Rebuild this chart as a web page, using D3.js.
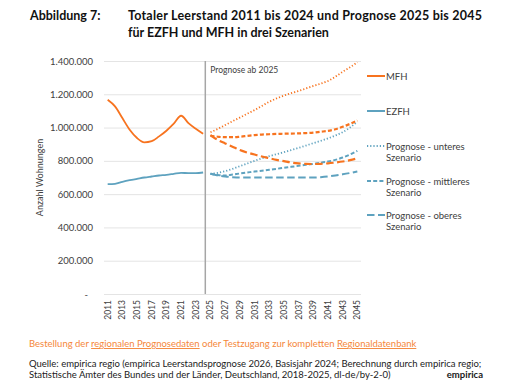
<!DOCTYPE html>
<html>
<head>
<meta charset="utf-8">
<script src="https://cdn.jsdelivr.net/npm/d3@7"></script>
<style>
    body { margin: 0; background: #fff; }
    text { font-family: Lato, "Open Sans", sans-serif; }
</style>
</head>
<body>
<div id="chart-area"></div>
<script>
// data (Anzahl leerstehender Wohnungen)
let histYears = d3.range(2011, 2025).map(String);
let progYears = d3.range(2025, 2046).map(String);
let allYears = histYears.concat(progYears);
let tickYears = allYears.filter(function (d) { return +d % 2 === 1; });

let mfhHist = [1167000, 1127000, 1057000, 987000, 937000, 911000, 918000, 947000, 981000, 1023000, 1071000, 1027000, 993000, 963000];
let ezfhHist = [660000, 662000, 674000, 684000, 692000, 700000, 706000, 712000, 716000, 722000, 728000, 726000, 726000, 730000];

let mfhUnten = [972000, 992000, 1015000, 1038000, 1060000, 1083000, 1105000, 1130000, 1155000, 1175000, 1192000, 1207000, 1220000, 1235000, 1250000, 1264000, 1280000, 1305000, 1335000, 1362000, 1392000];
let mfhMitte = [950000, 945000, 942000, 942000, 945000, 950000, 955000, 958000, 960000, 962000, 963000, 964000, 965000, 967000, 970000, 975000, 980000, 990000, 1005000, 1022000, 1042000];
let mfhOben = [955000, 925000, 905000, 885000, 865000, 850000, 838000, 826000, 816000, 806000, 798000, 790000, 785000, 782000, 781000, 782000, 785000, 790000, 796000, 804000, 815000];

let ezfhUnten = [722000, 728000, 738000, 752000, 768000, 784000, 800000, 815000, 828000, 840000, 852000, 865000, 878000, 892000, 906000, 920000, 935000, 952000, 972000, 1000000, 1035000];
let ezfhMitte = [722000, 715000, 712000, 718000, 724000, 730000, 736000, 741000, 746000, 752000, 758000, 764000, 770000, 776000, 782000, 788000, 796000, 806000, 820000, 838000, 860000];
let ezfhOben = [722000, 712000, 706000, 702000, 700000, 700000, 700000, 700000, 700000, 700000, 700000, 700000, 700000, 700000, 700000, 702000, 706000, 712000, 719000, 727000, 736000];

let yTicks = [0, 200000, 400000, 600000, 800000, 1000000, 1200000, 1400000];
let legendLabels = ["MFH", "EZFH", ["Prognose - unteres", "Szenario"], ["Prognose - mittleres", "Szenario"], ["Prognose - oberes", "Szenario"]];

let orange = "#f7731f",
    blue = "#5ea2bf",
    textCol = "#404040";

let margin = {left: 104, right: 158, top: 61, bottom: 96};
let width = 519 - margin.left - margin.right,
    height = 390 - margin.top - margin.bottom;

let root = d3.select("#chart-area")
    .append("svg")
    .attr("width", 519)
    .attr("height", 390);

let svg = root.append("g")
    .attr("transform", "translate(" + margin.left + ", " + margin.top + ")");

// Title
let title = root.append("g")
    .attr("font-weight", "bold")
    .attr("font-size", "12.5px")
    .attr("fill", "#111");
title.append("text").attr("x", 30).attr("y", 20).text("Abbildung 7:");
title.append("text").attr("x", 128).attr("y", 20)
    .attr("textLength", 354).attr("lengthAdjust", "spacing")
    .text("Totaler Leerstand 2011 bis 2024 und Prognose 2025 bis 2045");
title.append("text").attr("x", 128).attr("y", 37).text("für EZFH und MFH in drei Szenarien");

// Scales
let x = d3.scaleBand()
    .domain(allYears)
    .range([0, width]);

let y = d3.scaleLinear()
    .domain([0, 1400000])
    .range([height, 0]);

let de = d3.formatLocale({decimal: ",", thousands: ".", grouping: [3], currency: ["", " €"]});
let fmt = de.format(",.0f");

// Y Axis + gridlines
let yAxisCall = d3.axisLeft(y)
    .tickValues(yTicks)
    .tickSize(-width)
    .tickPadding(11)
    .tickFormat(function (d) {
        return d === 0 ? "-" : fmt(d);
    });
let yAxis = svg.append("g")
    .attr("class", "y axis")
    .call(yAxisCall);
yAxis.select(".domain").remove();
yAxis.selectAll("line").attr("stroke", "#e4e4e4").attr("stroke-width", 1);
yAxis.selectAll("text")
    .attr("font-family", "Lato, sans-serif")
    .attr("font-size", "9.5px")
    .attr("fill", textCol);
yAxis.selectAll("text").filter(function (d) { return d === 0; })
    .attr("dx", -5);

// X Axis
let xAxisCall = d3.axisBottom(x).tickValues(tickYears).tickSize(0).tickPadding(0);
let xAxis = svg.append("g")
    .attr("class", "x axis")
    .attr("transform", "translate(0," + height + ")")
    .call(xAxisCall);
xAxis.select(".domain").remove();
xAxis.selectAll("text")
    .attr("font-family", "Lato, sans-serif")
    .attr("font-size", "8.5px")
    .attr("fill", textCol)
    .attr("text-anchor", "end")
    .attr("transform", "rotate(-90)")
    .attr("x", -6)
    .attr("y", 0)
    .attr("dy", "0.35em");

// Y Label
svg.append("text")
    .attr("y", -61)
    .attr("x", -(height / 2))
    .attr("font-size", "9px")
    .attr("fill", textCol)
    .attr("text-anchor", "middle")
    .attr("transform", "rotate(-90)")
    .text("Anzahl Wohnungen");

// Forecast divider
let xDiv = x("2025") - 1.5;
svg.append("line")
    .attr("x1", xDiv).attr("x2", xDiv)
    .attr("y1", 0).attr("y2", height)
    .attr("stroke", "#a6a6a6")
    .attr("stroke-width", 1.5);
svg.append("text")
    .attr("x", xDiv + 5)
    .attr("y", 12)
    .attr("font-size", "8.5px")
    .attr("fill", textCol)
    .text("Prognose ab 2025");

// Lines
let line = d3.line()
    .x(function (d) { return x(d.year) + x.bandwidth() / 2; })
    .y(function (d) { return y(d.value); })
    .curve(d3.curveMonotoneX);

function pairs(years, values) {
    return years.map(function (yr, i) { return {year: yr, value: values[i]}; });
}

let dashes = {solid: null, unten: "1.2,2", mitte: "4,2.2", oben: "7.5,3.5"};

let series = [
    {years: histYears, values: ezfhHist, color: blue, dash: dashes.solid, w: 1.8},
    {years: progYears, values: ezfhOben, color: blue, dash: dashes.oben, w: 2},
    {years: progYears, values: ezfhMitte, color: blue, dash: dashes.mitte, w: 2},
    {years: progYears, values: ezfhUnten, color: blue, dash: dashes.unten, w: 1.8},
    {years: histYears, values: mfhHist, color: orange, dash: dashes.solid, w: 1.8},
    {years: progYears, values: mfhOben, color: orange, dash: dashes.oben, w: 2.2},
    {years: progYears, values: mfhMitte, color: orange, dash: dashes.mitte, w: 2.2},
    {years: progYears, values: mfhUnten, color: orange, dash: dashes.unten, w: 1.8}
];

series.forEach(function (s) {
    svg.append("path")
        .datum(pairs(s.years, s.values))
        .attr("fill", "none")
        .attr("stroke", s.color)
        .attr("stroke-width", s.w)
        .attr("stroke-dasharray", s.dash)
        .attr("d", line);
});

// Legend
let legendRows = [
    {label: legendLabels[0], color: orange, dash: dashes.solid, y: 76},
    {label: legendLabels[1], color: blue, dash: dashes.solid, y: 111},
    {label: legendLabels[2], color: blue, dash: dashes.unten, y: 146},
    {label: legendLabels[3], color: blue, dash: dashes.mitte, y: 181},
    {label: legendLabels[4], color: blue, dash: dashes.oben, y: 215}
];
let legend = root.append("g");
legendRows.forEach(function (r) {
    legend.append("line")
        .attr("x1", 367).attr("x2", 385)
        .attr("y1", r.y).attr("y2", r.y)
        .attr("stroke", r.color)
        .attr("stroke-width", 2)
        .attr("stroke-dasharray", r.dash);
    let lines = Array.isArray(r.label) ? r.label : [r.label];
    lines.forEach(function (t, i) {
        legend.append("text")
            .attr("x", 386)
            .attr("y", r.y + 3.5 + i * 11.5)
            .attr("font-size", "9.5px")
            .attr("fill", textCol)
            .text(t);
    });
});

// Footer
let foot = root.append("g").attr("font-size", "9.5px");
let order = foot.append("text")
    .attr("x", 29).attr("y", 347)
    .attr("fill", "#f5873a");
order.append("tspan").text("Bestellung der ");
order.append("tspan").attr("text-decoration", "underline").text("regionalen Prognosedaten");
order.append("tspan").text(" oder Testzugang zur kompletten ");
order.append("tspan").attr("text-decoration", "underline").text("Regionaldatenbank");

foot.append("text")
    .attr("x", 29).attr("y", 366.5)
    .attr("fill", "#1a1a1a")
    .text("Quelle: empirica regio (empirica Leerstandsprognose 2026, Basisjahr 2024; Berechnung durch empirica regio;");
foot.append("text")
    .attr("x", 29).attr("y", 377.5)
    .attr("fill", "#1a1a1a")
    .text("Statistische Ämter des Bundes und der Länder, Deutschland, 2018-2025, dl-de/by-2-0)");
foot.append("text")
    .attr("x", 483).attr("y", 377.5)
    .attr("text-anchor", "end")
    .attr("font-weight", "bold")
    .attr("fill", "#1a1a1a")
    .text("empirica");
</script>
</body>
</html>
